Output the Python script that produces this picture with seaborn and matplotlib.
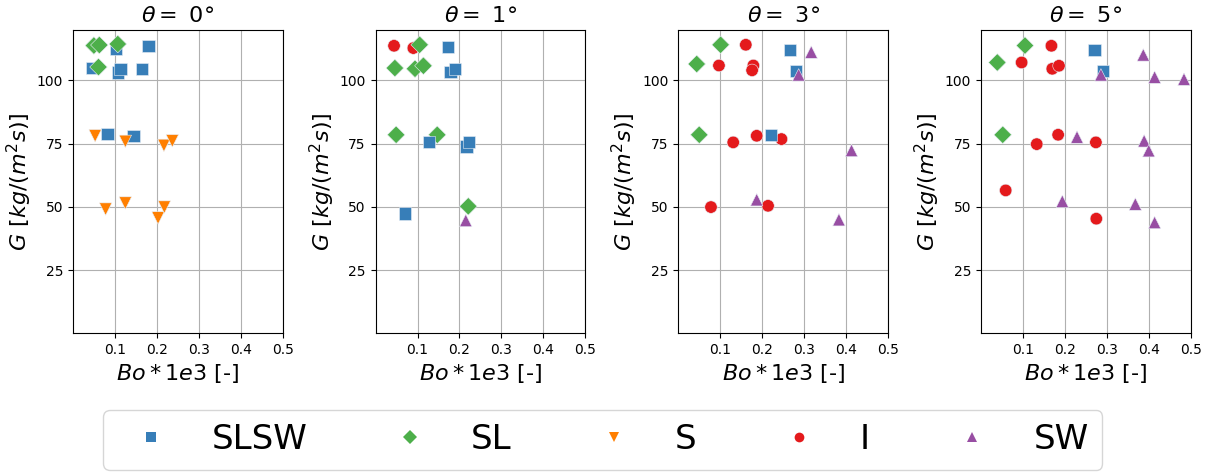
import matplotlib
matplotlib.use("Agg")
import matplotlib.pyplot as plt
from matplotlib.lines import Line2D
import seaborn as sns
import pandas as pd

# flow regimes and their look
regimes = ["SLSW", "SL", "S", "I", "SW"]
colors = {"SLSW": "#377eb8", "SL": "#4daf4a", "S": "#ff7f00", "I": "#e41a1c", "SW": "#984ea3"}
marks = {"SLSW": "s", "SL": "D", "S": "v", "I": "o", "SW": "^"}
angles = [0, 1, 3, 5]

# theta = 0
bo_0_slsw = [0.103, 0.180, 0.046, 0.107, 0.113, 0.165, 0.082, 0.144]
g_0_slsw = [112.4, 113.7, 104.9, 103.2, 104.6, 104.6, 78.8, 78.1]
bo_0_sl = [0.050, 0.063, 0.107, 0.061]
g_0_sl = [113.8, 114.0, 114.4, 105.3]
bo_0_s = [0.053, 0.125, 0.217, 0.237, 0.078, 0.125, 0.203, 0.218]
g_0_s = [78.1, 75.9, 74.3, 76.1, 49.1, 51.5, 45.6, 49.9]

# theta = 1
bo_1_i = [0.044, 0.090]
g_1_i = [113.7, 112.8]
bo_1_sl = [0.105, 0.046, 0.094, 0.114, 0.049, 0.147, 0.221]
g_1_sl = [114.1, 104.9, 104.6, 105.8, 78.5, 78.5, 50.2]
bo_1_slsw = [0.173, 0.179, 0.189, 0.127, 0.217, 0.223, 0.070]
g_1_slsw = [113.2, 103.3, 104.6, 75.6, 73.9, 75.6, 47.3]
bo_1_sw = [0.215]
g_1_sw = [44.6]

# theta = 3
bo_3_sl = [0.101, 0.044, 0.050]
g_3_sl = [114.1, 106.5, 78.5]
bo_3_i = [0.161, 0.097, 0.179, 0.176, 0.187, 0.131, 0.246, 0.078, 0.214]
g_3_i = [114.1, 105.9, 105.9, 104.0, 78.1, 75.5, 76.8, 49.9, 50.4]
bo_3_slsw = [0.266, 0.280, 0.221]
g_3_slsw = [112.1, 103.8, 78.5]
bo_3_sw = [0.317, 0.287, 0.413, 0.187, 0.383]
g_3_sw = [111.2, 102.2, 72.3, 52.8, 44.9]

# theta = 5
bo_5_sl = [0.105, 0.039, 0.052]
g_5_sl = [113.8, 107.1, 78.5]
bo_5_i = [0.168, 0.097, 0.170, 0.186, 0.184, 0.133, 0.274, 0.059, 0.275]
g_5_i = [113.7, 107.1, 104.6, 105.8, 78.5, 74.8, 75.5, 56.5, 45.3]
bo_5_slsw = [0.271, 0.291]
g_5_slsw = [112.1, 103.8]
bo_5_sw = [0.387, 0.286, 0.414, 0.484, 0.229, 0.389, 0.400, 0.194, 0.368, 0.414]
g_5_sw = [110.1, 102.2, 101.3, 100.5, 77.6, 76.1, 72.2, 52.2, 51.1, 43.8]

groups = [
    (0, "SLSW", bo_0_slsw, g_0_slsw), (0, "SL", bo_0_sl, g_0_sl), (0, "S", bo_0_s, g_0_s),
    (1, "I", bo_1_i, g_1_i), (1, "SL", bo_1_sl, g_1_sl), (1, "SLSW", bo_1_slsw, g_1_slsw),
    (1, "SW", bo_1_sw, g_1_sw),
    (3, "SL", bo_3_sl, g_3_sl), (3, "I", bo_3_i, g_3_i), (3, "SLSW", bo_3_slsw, g_3_slsw),
    (3, "SW", bo_3_sw, g_3_sw),
    (5, "SL", bo_5_sl, g_5_sl), (5, "I", bo_5_i, g_5_i), (5, "SLSW", bo_5_slsw, g_5_slsw),
    (5, "SW", bo_5_sw, g_5_sw),
]
rows = []
for th, reg, bo, g in groups:
    for b, gg in zip(bo, g):
        rows.append({"theta": th, "regime": reg, "Bo": b, "G": gg})
df = pd.DataFrame(rows)

fig, axes = plt.subplots(1, 4, figsize=(12.15, 4.74), dpi=100)
fig.subplots_adjust(left=0.060, right=0.980, top=0.937, bottom=0.297, wspace=0.443)

for ax, th in zip(axes, angles):
    sub = df[df.theta == th]
    sns.scatterplot(data=sub, x="Bo", y="G", hue="regime", style="regime",
                    palette=colors, markers=marks, s=80, linewidth=0.4,
                    edgecolor="#e8eef5", legend=False, ax=ax, zorder=3)
    ax.set_xlim(0, 0.5)
    ax.set_ylim(0, 120)
    ax.set_xticks([0.1, 0.2, 0.3, 0.4, 0.5])
    ax.set_yticks([25, 50, 75, 100])
    ax.grid(True, color="#b0b0b0", linewidth=0.8)
    ax.set_axisbelow(True)
    ax.set_title(r"$\theta=$ " + f"{th}°", fontsize=16)
    ax.set_xlabel(r"$Bo*1e3$ [-]", fontsize=16)
    ax.set_ylabel(r"$G\ [kg/(m^2s)]$", fontsize=16, labelpad=2)

handles = [Line2D([], [], linestyle="none", marker=marks[r], color=colors[r],
                  markeredgewidth=0, markersize=7, label=r)
           for r in regimes]
fig.legend(handles=handles, loc="center", bbox_to_anchor=(0.496, 0.072), ncol=5,
           fontsize=24.5, frameon=True)

fig.savefig("out.png", dpi=100)
